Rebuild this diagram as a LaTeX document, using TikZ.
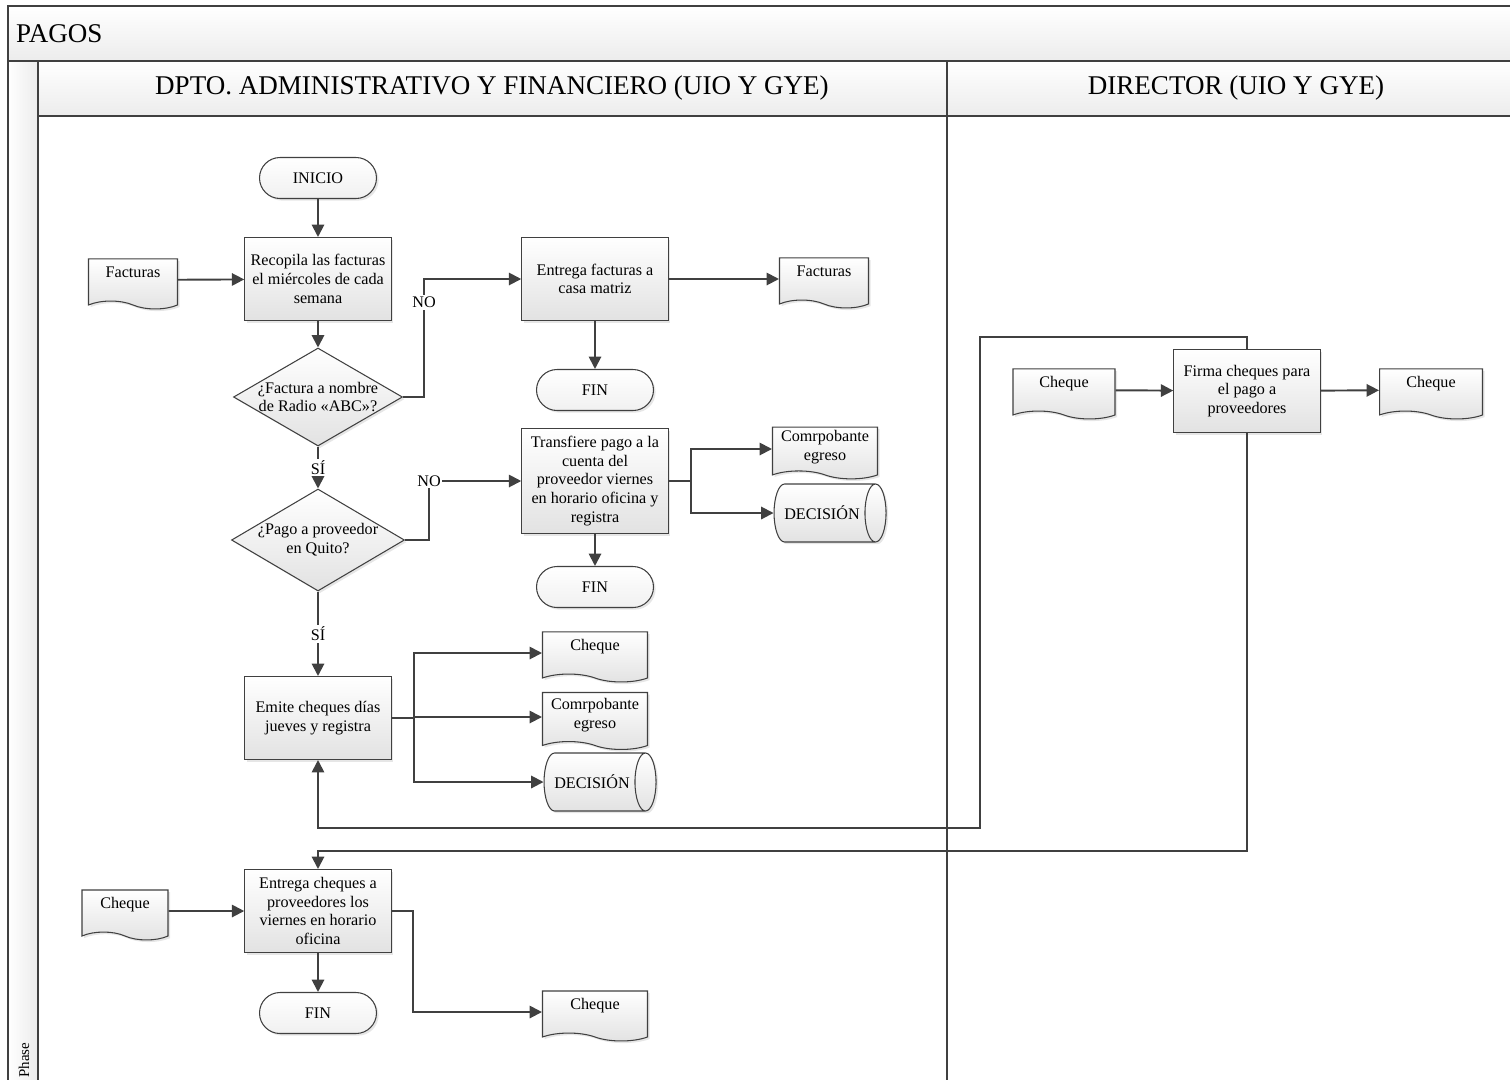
\documentclass[tikz,border=0pt]{standalone}
\usepackage{fontspec}
\setmainfont{Liberation Serif}
\usetikzlibrary{shapes.geometric,shapes.symbols,shadows,arrows.meta}

\definecolor{linegray}{HTML}{404040}
\definecolor{boxgray}{HTML}{E2E2E2}
\definecolor{headgray}{HTML}{ECECEC}

\newcommand{\boxfont}{\fontsize{9.2}{10.6}\selectfont}
\newcommand{\headfont}{\fontsize{15.4}{18}\selectfont}

\begin{document}
\begin{tikzpicture}[
        x               = 0.02cm,
        y               = -0.02cm,
        base/.style     = {draw=linegray, line width=0.6pt, top color=white, bottom color=boxgray,
                           drop shadow={shadow xshift=1.2pt, shadow yshift=-1.2pt, opacity=0.2},
                           font=\boxfont, align=center, inner sep=2pt},
        proc/.style     = {base, rectangle, minimum width=2.93cm, minimum height=1.66cm},
        term/.style     = {base, rectangle, rounded corners=0.41cm, minimum width=2.34cm,
                           minimum height=0.82cm, bottom color=boxgray!50},
        decide/.style   = {base, diamond, minimum width=3.38cm, minimum height=1.96cm, inner sep=0pt},
        qtext/.style    = {font=\boxfont, align=center},
        doc/.style      = {base, tape, tape bend top=none, tape bend bottom=out and in,
                           tape bend height=4.5pt, minimum width=1.78cm, minimum height=1cm, text depth=9pt},
        stored/.style   = {base, cylinder, aspect=1.0, minimum width=1.16cm, minimum height=2.24cm},
        conn/.style     = {draw=linegray, line width=1.1pt, -{Triangle[length=7pt, width=7pt]}},
        tag/.style      = {fill=white, inner sep=1pt, font=\boxfont},
        lanehead/.style = {draw=linegray, line width=0.9pt, top color=white, bottom color=headgray},
        lanebody/.style = {draw=linegray, line width=0.9pt},
    ]
    \useasboundingbox (0,0) rectangle (1510,1079);
    \clip (0,0) rectangle (1510,1079);

    % swimlanes
    \draw[lanehead] (8,6) rectangle (1530,61);
    \draw[lanebody, left color=white, right color=headgray] (8,61) rectangle (38,1100);
    \draw[lanehead] (38,61) rectangle (947,116);
    \draw[lanehead] (947,61) rectangle (1530,116);
    \draw[lanebody] (38,116) rectangle (947,1100);
    \draw[lanebody] (947,116) rectangle (1530,1100);
    \node[font=\headfont, anchor=west] (pagos) at (10,34) {PAGOS};
    \node[font=\headfont] (dptoHead) at (492,88) {DPTO. ADMINISTRATIVO Y FINANCIERO (UIO Y GYE)};
    \node[font=\headfont] (dirHead) at (1236,88) {DIRECTOR (UIO Y GYE)};
    \node[font=\fontsize{8.5}{10}\selectfont, rotate=90] (phase) at (24,1060) {Phase};

    % dpto. administrativo
    \node[term] (inicio) at (318,178) {INICIO};
    \node[proc] (recopila) at (318,279) {Recopila las facturas\\el miércoles de cada\\semana};
    \node[doc] (factIn) at (133,280) {Facturas};
    \node[decide] (qFact) at (318,397) {};
    \node[qtext] (qFactTxt) at (qFact) {¿Factura a nombre\\de Radio «ABC»?};
    \node[proc] (entFact) at (595,279) {Entrega facturas a\\casa matriz};
    \node[doc] (factOut) at (824,279) {Facturas};
    \node[term] (finA) at (595,390) {FIN};

    \node[decide, minimum width=3.46cm, minimum height=2.04cm] (qQuito) at (318,540) {};
    \node[qtext] (qQuitoTxt) at (qQuito) {¿Pago a proveedor\\en Quito?};
    \node[proc, minimum height=2.1cm] (transf) at (595,481)
        {Transfiere pago a la\\cuenta del\\proveedor viernes\\en horario oficina y\\registra};
    \node[doc, minimum width=2.1cm, text depth=4pt] (compA) at (825,449) {Comrpobante\\egreso};
    \node[stored] (decA) at (822,513) {DECISIÓN};
    \node[term] (finB) at (595,587) {FIN};

    \node[proc] (emite) at (318,718) {Emite cheques días\\jueves y registra};
    \node[doc, minimum width=2.1cm] (chqA) at (595,653) {Cheque};
    \node[doc, minimum width=2.1cm, minimum height=1.14cm, text depth=4pt] (compB) at (595,717) {Comrpobante\\egreso};
    \node[stored] (decB) at (592,782) {DECISIÓN};

    \node[proc] (entChq) at (318,911) {Entrega cheques a\\proveedores los\\viernes en horario\\oficina};
    \node[doc, minimum width=1.72cm] (chqIn) at (125,911) {Cheque};
    \node[term] (finC) at (318,1013) {FIN};
    \node[doc, minimum width=2.1cm] (chqOut) at (595,1012) {Cheque};

    % director
    \node[proc] (firma) at (1247,391) {Firma cheques para\\el pago a\\proveedores};
    \node[doc, minimum width=2.04cm] (chqDirIn) at (1064,390) {Cheque};
    \node[doc, minimum width=2.06cm] (chqDirOut) at (1431,390) {Cheque};

    \draw[conn] (inicio) -- (recopila);
    \draw[conn] (factIn) -- (recopila);
    \draw[conn] (recopila) -- (qFact);
    \draw[conn] (qFact.east) -- ++(21,0) |- node[tag, pos=0.4] (noA) {NO} (entFact.west);
    \draw[conn] (entFact) -- (factOut);
    \draw[conn] (entFact) -- (finA);
    \draw[conn] (qFact) -- node[tag] (siA) {SÍ} (qQuito);
    \draw[conn] (qQuito.east) -- ++(24,0) |- node[tag, pos=0.5] (noB) {NO} (transf.west);
    \draw[conn] (transf.east) -- ++(22,0) |- (compA.west);
    \draw[conn] (transf.east) -- ++(22,0) |- (decA.west);
    \draw[conn] (transf) -- (finB);
    \draw[conn] (qQuito) -- node[tag] (siB) {SÍ} (emite);
    \draw[conn] (emite.east) -- ++(22,0) |- (chqA.west);
    \draw[conn] (emite.east) -- ++(22,0) |- (compB.west);
    \draw[conn] (emite.east) -- ++(22,0) |- (decB.west);
    \draw[conn] (chqIn) -- (entChq);
    \draw[conn] (entChq.east) -- ++(21,0) |- (chqOut.west);
    \draw[conn] (entChq) -- (finC);
    \draw[conn] (chqDirIn) -- (firma);
    \draw[conn] (firma) -- (chqDirOut);

    \coordinate (loopTop) at (980,337);
    \coordinate (loopLow) at (980,828);
    \coordinate (backLow) at (600,851);
    \draw[conn] (firma.north) |- (loopTop) -- (loopLow) -| (emite.south);
    \draw[conn] (firma.south) |- (backLow) -| (entChq.north);
\end{tikzpicture}
\end{document}
